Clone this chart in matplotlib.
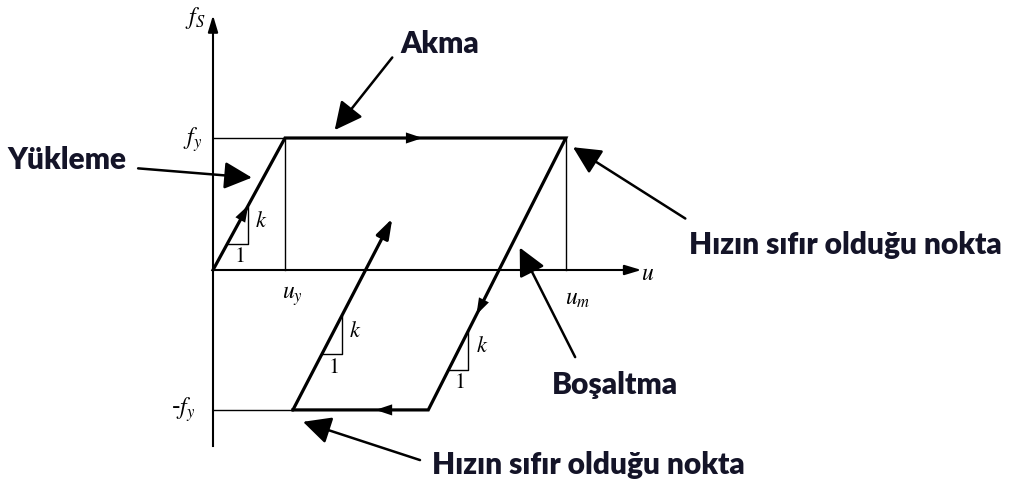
import matplotlib
matplotlib.use("Agg")
import matplotlib.pyplot as plt

plt.rcParams["mathtext.fontset"] = "stix"

# key values of the elastoplastic loop (u_y = f_y = 1)
u_y = 1.0
f_y = 1.0
u_m = 4.9
f_neg = -1.06
u_unload_end = 2.99
u_reload_start = 1.11
reload_tip = (2.49, 0.39)

path_u = [0.0, u_y, u_m, u_unload_end, u_reload_start, reload_tip[0]]
path_f = [0.0, f_y, f_y, f_neg, f_neg, reload_tip[1]]

# direction arrows along the loop: (segment index, fraction along it)
flow_arrows = [(0, 0.49), (1, 0.49), (2, 0.65), (3, 0.39)]

# slope triangles: (segment index, height of the base leg)
slope_tris = [(0, 0.2), (4, -0.64), (2, -0.76)]
tri_w = 0.28

# axis labels (mathtext) and their places
math_labels = ["$f_S$", "$f_y$", "-$f_y$", "$u_y$", "$u_m$", "$u$"]
math_pos = [(-0.25, 1.91), (-0.29, 0.99), (-0.42, -1.06),
            (1.10, -0.20), (5.06, -0.21), (6.04, -0.02)]

# callouts: text, text centre, arrow tail, arrow tip
notes = ["Akma", "Yükleme", "Hızın sıfır olduğu nokta", "Boşaltma",
         "Hızın sıfır olduğu nokta"]
note_pos = [(3.15, 1.71), (-2.03, 0.83), (8.78, 0.19), (5.58, -0.87),
            (5.22, -1.48)]
note_tail = [(2.49, 1.61), (-1.04, 0.77), (6.56, 0.39), (5.03, -0.66),
             (2.875, -1.44)]
note_tip = [(1.69, 1.06), (0.54, 0.70), (5.0, 0.93), (4.26, 0.17),
            (1.25, -1.15)]

fig = plt.figure(figsize=(10.11, 4.88), dpi=100)
ax = fig.add_axes([0, 0, 1, 1])
ax.set_xlim(-213 / 72, (1011 - 213) / 72)
ax.set_ylim((270 - 488) / 132, 270 / 132)
ax.axis("off")

ink = "black"
thin = dict(color=ink, lw=1.0)

# axes with arrows
ax.plot([0, 0], [-1.33, 1.85], color=ink, lw=1.5)
ax.plot([0, 5.85], [0, 0], color=ink, lw=1.5)
ax.annotate("", xy=(0, 1.93), xytext=(0, 1.80),
            arrowprops=dict(arrowstyle="-|>,head_length=1.0,head_width=0.3",
                            color=ink, lw=1.5, shrinkA=0, shrinkB=0))
ax.annotate("", xy=(5.95, 0), xytext=(5.75, 0),
            arrowprops=dict(arrowstyle="-|>,head_length=1.0,head_width=0.3",
                            color=ink, lw=1.5, shrinkA=0, shrinkB=0))

# reference lines
ax.plot([0, u_y], [f_y, f_y], **thin)
ax.plot([u_y, u_y], [f_y, 0], **thin)
ax.plot([u_m, u_m], [f_y, 0], **thin)
ax.plot([0, u_reload_start], [f_neg, f_neg], **thin)

# the loop
ax.plot(path_u[:-1], path_f[:-1], color=ink, lw=2.3, solid_joinstyle="miter")
ax.annotate("", xy=reload_tip, xytext=(path_u[4], path_f[4]),
            arrowprops=dict(arrowstyle="-|>,head_length=1.2,head_width=0.4",
                            color=ink, lw=2.3, shrinkA=0, shrinkB=0))

for seg, t in flow_arrows:
    u0, f0 = path_u[seg], path_f[seg]
    u1, f1 = path_u[seg + 1], path_f[seg + 1]
    tip = (u0 + t * (u1 - u0), f0 + t * (f1 - f0))
    back = (tip[0] - 0.05 * (u1 - u0), tip[1] - 0.05 * (f1 - f0))
    ax.annotate("", xy=tip, xytext=back,
                arrowprops=dict(arrowstyle="-|>,head_length=1.2,head_width=0.4",
                                color=ink, lw=0, shrinkA=0, shrinkB=0))

for seg, y0 in slope_tris:
    u0, f0 = path_u[seg], path_f[seg]
    u1, f1 = path_u[seg + 1], path_f[seg + 1]
    slope = (f1 - f0) / (u1 - u0)
    x0 = u0 + (y0 - f0) / slope
    x1 = x0 + tri_w
    y1 = y0 + slope * tri_w
    ax.plot([x0, x1, x1], [y0, y0, y1], **thin)
    ax.text(x1 + 0.1, (y0 + y1) / 2 + 0.03, "$k$", fontsize=16,
            ha="left", va="center")
    ax.text(x0 + tri_w / 2 + 0.03, y0 - 0.1, "1", fontsize=16,
            family="STIXGeneral", ha="center", va="center")

for lab, (x, y) in zip(math_labels, math_pos):
    ax.text(x, y, lab, fontsize=17, ha="center", va="center")

for txt, pos, tail, tip in zip(notes, note_pos, note_tail, note_tip):
    ax.text(pos[0], pos[1], txt, fontsize=21.5, fontweight="heavy",
            family="Lato", color="#141428", ha="center", va="center")
    ax.annotate("", xy=tip, xytext=tail,
                arrowprops=dict(arrowstyle="-|>,head_length=0.85,head_width=0.42",
                                mutation_scale=20, color=ink, lw=1.8,
                                shrinkA=0, shrinkB=0))

fig.savefig("out.png", dpi=100, facecolor="white")
